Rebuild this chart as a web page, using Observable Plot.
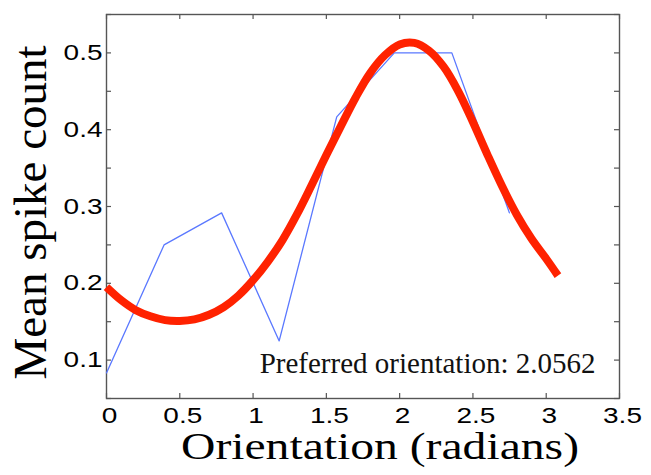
<!DOCTYPE html>
<html>
<head>
<meta charset="utf-8">
<script src="https://cdn.jsdelivr.net/npm/d3@7"></script>
<script src="https://cdn.jsdelivr.net/npm/@observablehq/plot@0.6"></script>
<style>
  html, body { margin: 0; padding: 0; background: #fff; }
</style>
</head>
<body>
<div id="chart"></div>
<script>
// Observed tuning data (blue): orientation (rad) vs mean spike count
const obsOrientation = [0, 0.3927, 0.7854, 1.1781, 1.5708, 1.9635, 2.3562, 2.7489];
const obsSpikes      = [0.0833, 0.25, 0.2917, 0.125, 0.4167, 0.5, 0.5, 0.2917];

// Fitted tuning curve (red)
const fitOrientation = [0, 0.1, 0.2, 0.3, 0.4, 0.5, 0.6, 0.7, 0.8, 0.9, 1.0, 1.1, 1.2, 1.3, 1.4, 1.5,
                        1.6, 1.7, 1.8, 1.9, 2.0, 2.1, 2.2, 2.3, 2.4, 2.5, 2.6, 2.7, 2.8, 2.9, 3.0, 3.08];
const fitSpikes      = [0.195, 0.178, 0.165, 0.157, 0.152, 0.151, 0.153, 0.159, 0.169, 0.184, 0.204, 0.228,
                        0.256, 0.290, 0.328, 0.367, 0.405, 0.442, 0.474, 0.497, 0.511, 0.513, 0.503, 0.482,
                        0.450, 0.410, 0.367, 0.326, 0.289, 0.258, 0.232, 0.210];

const xTicks = [0, 0.5, 1, 1.5, 2, 2.5, 3, 3.5];
const xTickLabels = ["0", "0.5", "1", "1.5", "2", "2.5", "3", "3.5"];
const yTicks = [0.05, 0.1, 0.15, 0.2, 0.25, 0.3, 0.35, 0.4, 0.45, 0.5, 0.55];
const yLabelTicks = [0.1, 0.2, 0.3, 0.4, 0.5];
const yTickLabels = ["0.1", "0.2", "0.3", "0.4", "0.5"];

const xTitle = "Orientation (radians)";
const yTitle = "Mean spike count";
const preferredOrientation = "2.0562";
const annotation = "Preferred orientation: " + preferredOrientation;

const obs = obsOrientation.map((x, i) => ({x, y: obsSpikes[i]}));
const fit = fitOrientation.map((x, i) => ({x, y: fitSpikes[i]}));

const W = 651, H = 475;
const mL = 106, mR = 32, mT = 14, mB = 77;
const innerH = H - mT - mB, innerW = W - mL - mR;
const tickLen = 5;

const sans = "'Liberation Sans', Arial, Helvetica, sans-serif";
const serif = "'Liberation Serif', 'Times New Roman', Times, serif";

const chart = Plot.plot({
  width: W,
  height: H,
  marginLeft: mL,
  marginRight: mR,
  marginTop: mT,
  marginBottom: mB,
  style: {background: "#fff", overflow: "visible"},
  x: {domain: [0, 3.5]},
  y: {domain: [0.05, 0.55]},
  marks: [
    // tick labels
    Plot.axisX(xTicks, {anchor: "bottom", tickSize: 0, tickPadding: 9, dx: 3,
      tickFormat: (d, i) => xTickLabels[i], fontSize: 22, fontFamily: sans, fill: "#000", label: null}),
    Plot.axisY(yLabelTicks, {anchor: "left", tickSize: 0, tickPadding: 4,
      tickFormat: (d, i) => yTickLabels[i], fontSize: 22, fontFamily: sans, fill: "#000", label: null}),
    // inward ticks on all four sides
    Plot.tickX(xTicks, {x: d => d, insetTop: innerH - tickLen, stroke: "#555", strokeWidth: 1.2}),
    Plot.tickX(xTicks, {x: d => d, insetBottom: innerH - tickLen, stroke: "#555", strokeWidth: 1.2}),
    Plot.tickY(yTicks, {y: d => d, insetRight: innerW - tickLen, stroke: "#555", strokeWidth: 1.2}),
    Plot.tickY(yTicks, {y: d => d, insetLeft: innerW - tickLen, stroke: "#555", strokeWidth: 1.2}),
    Plot.frame({stroke: "#555", strokeWidth: 1.4}),
    // data
    Plot.line(obs, {x: "x", y: "y", stroke: "#5a78ff", strokeWidth: 1.3}),
    Plot.line(fit, {x: "x", y: "y", stroke: "#ff2200", strokeWidth: 8, curve: "catmull-rom",
      strokeLinejoin: "round", strokeLinecap: "butt"}),
    // annotation
    Plot.text([annotation], {frameAnchor: "bottom-right", textAnchor: "end", lineAnchor: "bottom",
      dx: -24, dy: -26, fontSize: 29, fontFamily: serif, fill: "#111"}),
    // axis titles
    Plot.text([xTitle], {frameAnchor: "bottom", textAnchor: "middle", lineAnchor: "bottom",
      dx: 17, dy: 60, fontSize: 38, fontFamily: serif, fill: "#000"}),
    Plot.text([yTitle], {frameAnchor: "left", textAnchor: "middle", lineAnchor: "bottom",
      rotate: -90, dx: -61, dy: 6, fontSize: 47, fontFamily: serif, fill: "#000"})
  ]
});

document.getElementById("chart").append(chart);

// Horizontal stretch of glyphs as in the reference
function stretch(el, factor) {
  const len = el.getComputedTextLength();
  if (len > 0) {
    el.setAttribute("textLength", (len * factor).toFixed(1));
    el.setAttribute("lengthAdjust", "spacingAndGlyphs");
  }
}
chart.querySelectorAll('[aria-label="x-axis tick label"] text, [aria-label="y-axis tick label"] text')
  .forEach(el => stretch(el, 1.27));
chart.querySelectorAll('[aria-label="text"] text').forEach(el => {
  if (el.textContent === xTitle) stretch(el, 398 / el.getComputedTextLength());
});
</script>
</body>
</html>
